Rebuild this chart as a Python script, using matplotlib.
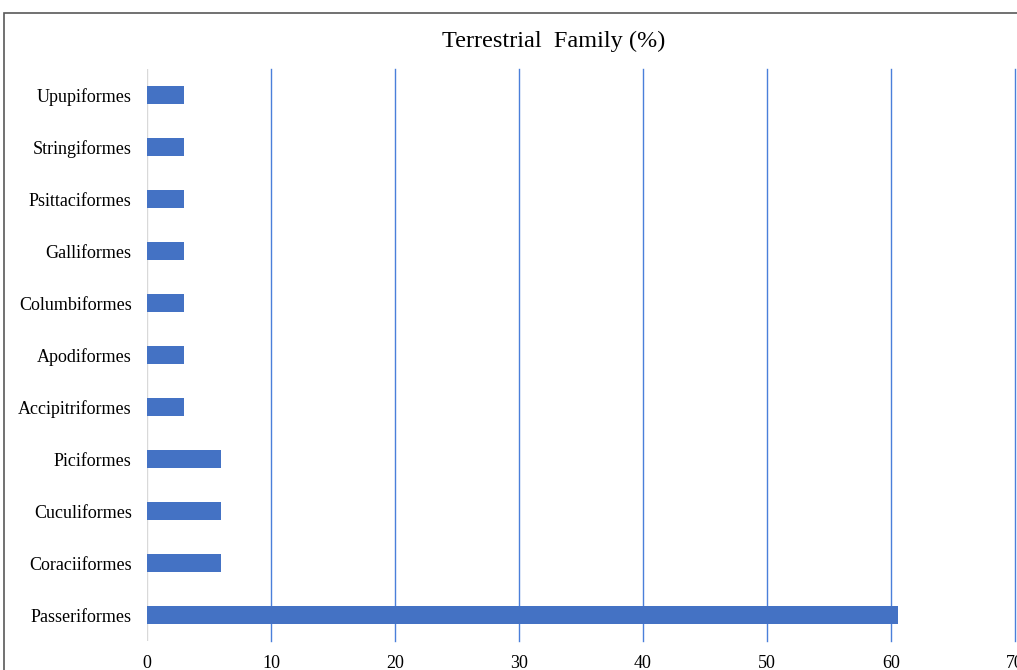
import matplotlib.pyplot as plt
from matplotlib.patches import Rectangle

families = ['Passeriformes', 'Coraciiformes', 'Cuculiformes', 'Piciformes',
            'Accipitriformes', 'Apodiformes', 'Columbiformes', 'Galliformes',
            'Psittaciformes', 'Stringiformes', 'Upupiformes']
percent = [60.6, 6.0, 6.0, 6.0, 3.0, 3.0, 3.0, 3.0, 3.0, 3.0, 3.0]
xticks = [0, 10, 20, 30, 40, 50, 60, 70]

plt.rcParams['font.family'] = ['Liberation Serif', 'DejaVu Serif']

fig = plt.figure(figsize=(10.17, 6.7), dpi=100)
ax = fig.add_axes([147 / 1017, 1 - 641 / 670, (1015 - 147) / 1017, 572 / 670])

ax.barh(range(len(families)), percent, height=0.35, color='#4472C4', zorder=3)
ax.set_yticks(range(len(families)))
ax.set_yticklabels(families, fontsize=13)
ax.set_ylim(-0.5, len(families) - 0.5)
ax.set_xlim(0, 70)
ax.set_xticks(xticks)
ax.set_xticklabels([str(t) for t in xticks], fontsize=13)
ax.tick_params(length=0, pad=10, axis='x')
ax.tick_params(length=0, pad=11, axis='y')

for t in xticks[1:]:
    ax.axvline(t, color='#4A7FDA', lw=1.0, zorder=1, clip_on=False)
ax.axvline(0, color='#D9D9D9', lw=1.0, zorder=2)
for s in ax.spines.values():
    s.set_visible(False)

fig.text(554 / 1017, 1 - 41 / 670, 'Terrestrial  Family (%)', fontsize=17.5,
         ha='center', va='center')

fig.patches.append(Rectangle((4 / 1017, -0.1), 1.2, 1 - 13 / 670 + 0.1,
                             transform=fig.transFigure, fill=False,
                             edgecolor='#595959', lw=1.2))

fig.savefig('out.png', dpi=100)
